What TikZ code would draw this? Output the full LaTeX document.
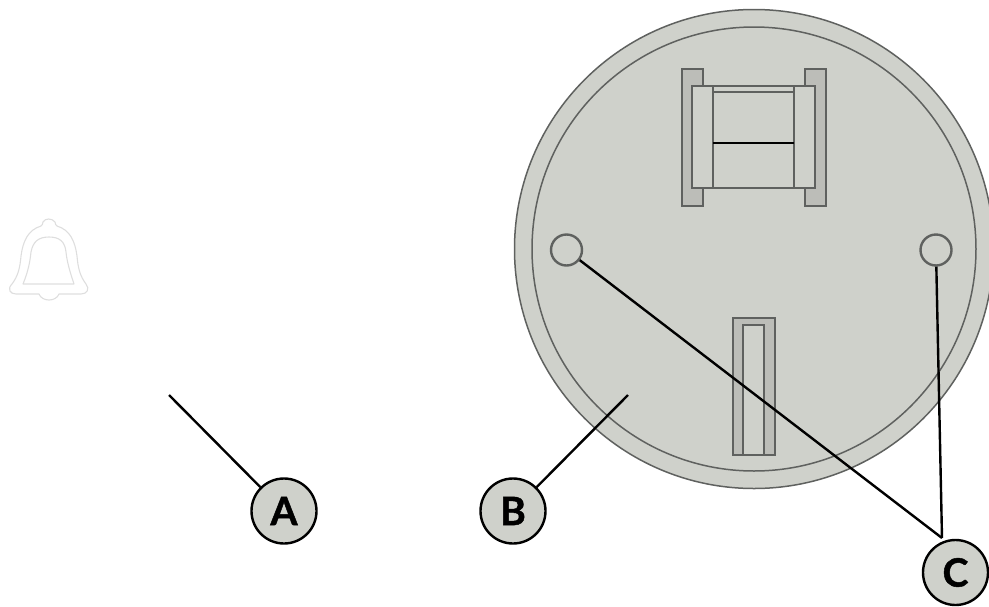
\documentclass[tikz,border=0pt]{standalone}
\usepackage{fontspec}
\setmainfont{Lato}[BoldFeatures={FakeBold=1.2}]
\definecolor{plate}{HTML}{CFD1CB}
\definecolor{darkgrey}{HTML}{BCBDB8}
\definecolor{edge}{HTML}{5F615F}
\definecolor{belledge}{HTML}{DEDEDE}
\tikzset{
  part/.style={draw=edge,line width=1.5pt,fill=plate},
  bar/.style={draw=edge,line width=1.5pt,fill=darkgrey},
  hole/.style={circle,draw=edge,line width=2.4pt,fill=plate,inner sep=0pt},
  tag/.style={circle,draw=black,line width=2.4pt,fill=plate,minimum size=65pt,inner sep=0pt,font=\bfseries\fontsize{39}{39}\selectfont},
  leader/.style={draw=black,line width=2.4pt},
  bell/.style={draw=belledge,line width=1.1pt,line join=round}
}
\begin{document}
\begin{tikzpicture}[x=1pt,y=-1pt]
\useasboundingbox (0,0) rectangle (989,606);
% body
\node[circle,draw=edge,line width=1.5pt,fill=plate,minimum size=479pt,inner sep=0pt] (outer) at (754,249) {};
\node[circle,draw=edge,line width=1.5pt,fill=plate,minimum size=444pt,inner sep=0pt] (inner) at (754,249) {};
% upper contact
\draw[bar] (682,69) rectangle (703,206);
\draw[bar] (805,69) rectangle (826,206);
\draw[part] (692,86) rectangle (815,188);
\draw[part] (713,86) -- (713,188);
\draw[part] (794,86) -- (794,188);
\draw[part] (713,92) -- (794,92);
\draw[draw=black,line width=2.2pt] (713,143) -- (794,143);
% lower contact
\draw[bar] (733,318) rectangle (775,455);
\draw[part] (743,325) rectangle (764,455);
% holes
\node[hole,minimum size=31pt] (h1) at (566.5,250) {};
\node[hole,minimum size=31pt] (h2) at (936,250) {};
% bell
\draw[bell] (43,222) .. controls (45,218) and (52,218) .. (55,222)
  .. controls (55,224) and (56,225) .. (57,226)
  .. controls (70,230) and (75,241) .. (77,256)
  .. controls (78,268) and (80,276) .. (86,284)
  .. controls (90,289) and (87,294) .. (81,294)
  -- (59,294) .. controls (56,302) and (42,302) .. (39,294)
  -- (16,294) .. controls (10,294) and (7,289) .. (12,284)
  .. controls (18,276) and (20,268) .. (21,256)
  .. controls (23,241) and (28,230) .. (41,226)
  .. controls (42,225) and (43,224) .. (43,222) -- cycle;
\draw[bell] (23,284) .. controls (28,272) and (30,262) .. (31,252)
  .. controls (33,242) and (38,237) .. (49,237)
  .. controls (60,237) and (65,242) .. (66,252)
  .. controls (67,262) and (70,272) .. (74,284) -- cycle;
% tags
\node[tag] (A) at (284,511) {A};
\node[tag] (B) at (513,511) {B};
\node[tag] (C) at (955.5,572.5) {C};
\coordinate (aend) at (169,395);
\coordinate (bend) at (628,395);
\coordinate (cjoin) at (942,538);
\draw[leader] (aend) -- (A);
\draw[leader] (bend) -- (B);
\draw[leader] (h1) -- (cjoin);
\draw[leader] (h2) -- (cjoin);
\end{tikzpicture}
\end{document}
